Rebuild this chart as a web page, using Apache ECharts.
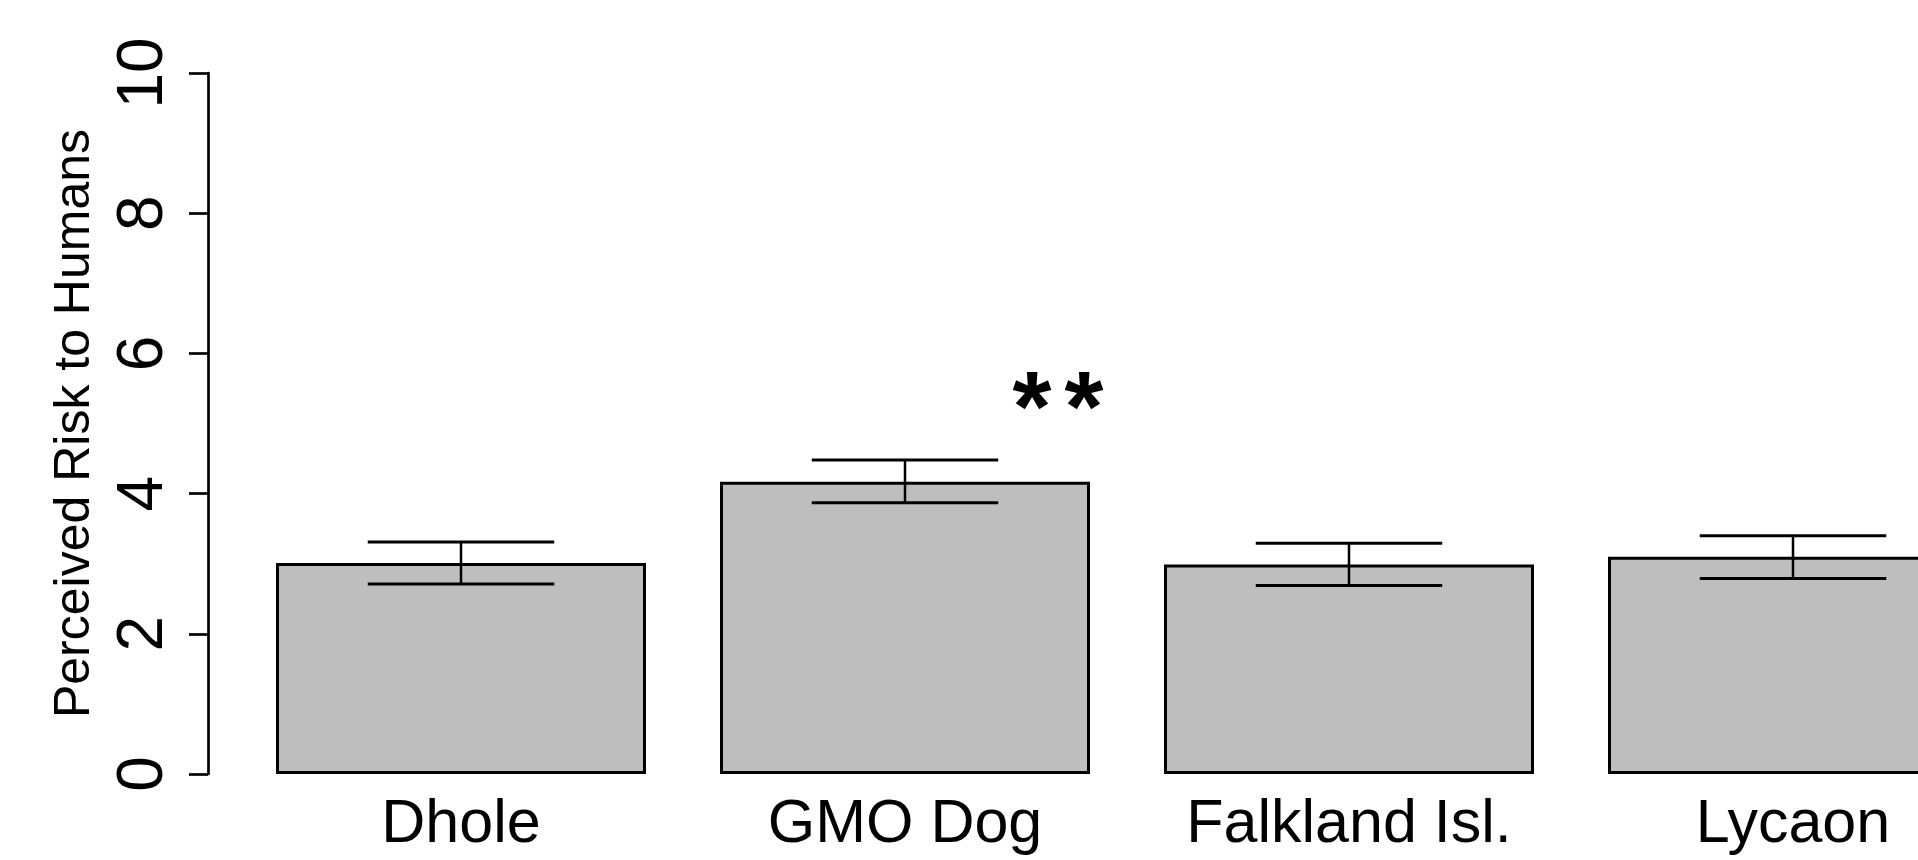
<!DOCTYPE html>
<html>
<head>
<meta charset="utf-8">
<script src="https://cdn.jsdelivr.net/npm/echarts@6/dist/echarts.min.js"></script>
<style>
html,body{margin:0;padding:0;background:#fff;}
#chart{width:1918px;height:860px;}
</style>
</head>
<body>
<div id="chart"></div>
<script>
const categories = ['Dhole', 'GMO Dog', 'Falkland Isl.', 'Lycaon'];
const means = [3.01, 4.17, 2.99, 3.10];
const errLow = [2.71, 3.87, 2.69, 2.79];
const errHigh = [3.31, 4.48, 3.29, 3.40];
const yMin = 0, yMax = 10, yInterval = 2;
const yTitle = 'Perceived Risk to Humans';
const annotCategory = 'GMO Dog';
const annotValue = 5.5;
const annotText = '{s|*}{s|*}';

const FONT = '"Liberation Sans", Arial, Helvetica, sans-serif';
const chart = echarts.init(document.getElementById('chart'), null, {renderer: 'canvas'});

const errData = categories.map((c, i) => [i, errLow[i], errHigh[i]]);

chart.setOption({
  animation: false,
  backgroundColor: '#ffffff',
  grid: {left: 239, width: 1776, top: 73, height: 701, containLabel: false, outerBoundsMode: 'none'},
  xAxis: {
    type: 'category',
    data: categories,
    boundaryGap: true,
    axisLine: {show: false},
    axisTick: {show: false},
    splitLine: {show: false},
    axisLabel: {
      show: true, margin: 21, color: '#000',
      fontFamily: FONT, fontSize: 61, interval: 0
    }
  },
  yAxis: {
    type: 'value',
    min: yMin, max: yMax, interval: yInterval,
    offset: 31,
    name: yTitle,
    nameLocation: 'middle',
    nameGap: 108,
    nameRotate: 90,
    nameTextStyle: {color: '#000', fontFamily: FONT, fontSize: 50},
    axisLine: {show: true, lineStyle: {color: '#000', width: 2.7}},
    axisTick: {show: true, length: 19, lineStyle: {color: '#000', width: 2.7}},
    splitLine: {show: false},
    axisLabel: {
      show: true, rotate: 90, margin: 32, color: '#000',
      fontFamily: FONT, fontSize: 64
    }
  },
  series: [
    {
      type: 'bar',
      data: means,
      barCategoryGap: '16.667%',
      itemStyle: {color: '#bebebe', borderColor: '#000', borderWidth: 3},
      emphasis: {disabled: true},
      markPoint: {
        symbol: 'circle',
        symbolSize: 0,
        data: [{coord: [annotCategory, annotValue]}],
        label: {
          show: true, formatter: annotText, position: 'inside',
          offset: [153, 25], color: '#000',
          rich: {
            s: {fontFamily: FONT, fontWeight: 'bold', fontSize: 100, color: '#000', padding: [0, 6.5, 0, 6.5]}
          }
        }
      }
    },
    {
      type: 'custom',
      data: errData,
      encode: {x: 0, y: [1, 2]},
      z: 5,
      renderItem: function (params, api) {
        const x = api.value(0);
        const lo = api.coord([x, api.value(1)]);
        const hi = api.coord([x, api.value(2)]);
        const band = api.size([1, 0])[0];
        const hw = band * 0.21;
        const cap = {stroke: '#000', lineWidth: 3};
        const stem = {stroke: '#000', lineWidth: 2.5};
        return {
          type: 'group',
          children: [
            {type: 'line', shape: {x1: lo[0], y1: lo[1], x2: hi[0], y2: hi[1]}, style: stem},
            {type: 'line', shape: {x1: hi[0] - hw, y1: hi[1], x2: hi[0] + hw, y2: hi[1]}, style: cap},
            {type: 'line', shape: {x1: lo[0] - hw, y1: lo[1], x2: lo[0] + hw, y2: lo[1]}, style: cap}
          ]
        };
      }
    }
  ]
});
</script>
</body>
</html>
